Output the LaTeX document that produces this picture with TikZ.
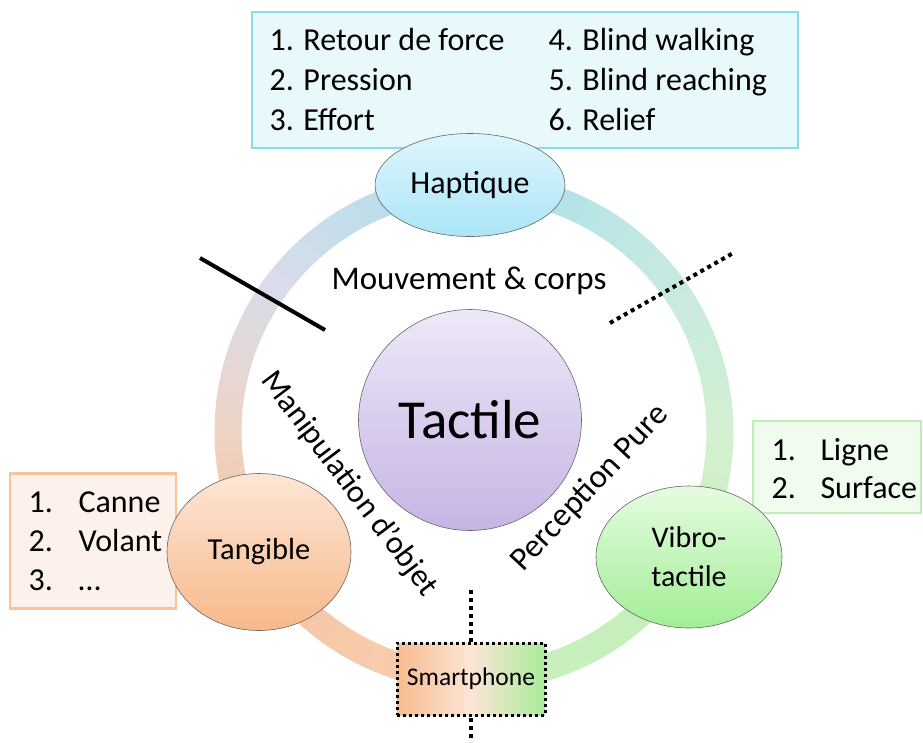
\documentclass[tikz,border=0pt]{standalone}
\usepackage{fontspec}
\setmainfont{Carlito}
\usetikzlibrary{shapes.geometric}

\definecolor{hapTop}{HTML}{DFF6FC}
\definecolor{hapBot}{HTML}{ABE5F7}
\definecolor{tacTop}{HTML}{EEE8F7}
\definecolor{tacBot}{HTML}{C6B4E4}
\definecolor{tanTop}{HTML}{FDE6D6}
\definecolor{tanBot}{HTML}{F7B98B}
\definecolor{vibTop}{HTML}{E6FBE2}
\definecolor{vibBot}{HTML}{A2EE96}
\definecolor{hapFill}{HTML}{E9F8FB}
\definecolor{hapLine}{HTML}{86DEE8}
\definecolor{tanFill}{HTML}{FCF2EB}
\definecolor{tanLine}{HTML}{F8C29A}
\definecolor{vibFill}{HTML}{EFFCEE}
\definecolor{vibLine}{HTML}{BDEFB5}
\definecolor{smL}{HTML}{F8BB8E}
\definecolor{smM}{HTML}{FCE5D7}
\definecolor{smR}{HTML}{A9EC9A}
% ring colours, clockwise from the top
\definecolor{rA}{HTML}{A6DFEA}
\definecolor{rB}{HTML}{C4E9E3}
\definecolor{rC}{HTML}{D5F0D0}
\definecolor{rD}{HTML}{C4EFBA}
\definecolor{rE}{HTML}{C9F0BF}
\definecolor{rF}{HTML}{F8CFB3}
\definecolor{rG}{HTML}{F5C39F}
\definecolor{rH}{HTML}{EDD4C6}
\definecolor{rI}{HTML}{D9DCEA}

\begin{document}
\begin{tikzpicture}[x=1pt, y=-1pt,
  bubble/.style={ellipse, draw=gray!80!black, line width=0.6pt, inner sep=0pt},
  listbox/.style={line width=2.5pt, inner sep=0pt},
  item/.style={anchor=base west, font=\fontsize{32}{38}\selectfont},
  sep/.style={line width=4pt},
  dotsep/.style={line width=4pt, dash pattern=on 4pt off 4pt}]
\useasboundingbox (0,0) rectangle (923,742);

% list boxes
\node[listbox, draw=hapLine, fill=hapFill, minimum width=546, minimum height=136] (hapbox) at (525,80) {};
\node[listbox, draw=tanLine, fill=tanFill, minimum width=166, minimum height=135] (tanbox) at (93,541) {};
\node[listbox, draw=vibLine, fill=vibFill, minimum width=168, minimum height=92] (vibbox) at (837,467) {};

\foreach \t [count=\i] in {Retour de force, Pression, Effort}
  \node[item] (hapL\i) at (266, 10+40*\i) {\i. \t};
\foreach \t [count=\i from 4] in {Blind walking, Blind reaching, Relief}
  \node[item] (hapR\i) at (545, 10+40*\i-120) {\i. \t};
\foreach \t [count=\i] in {Canne, Volant, …} {
  \node[item] (tanN\i) at (25, 473+39*\i) {\i.};
  \node[item] (tanT\i) at (75, 473+39*\i) {\t};
}
\foreach \t [count=\i] in {Ligne, Surface} {
  \node[item] (vibN\i) at (768, 422+38*\i) {\i.};
  \node[item] (vibT\i) at (817, 422+38*\i) {\t};
}

% the ring
\coordinate (ring) at (474,432);
\foreach \sa/\ea/\ca/\cb in {-90/-45/rA/rB, -45/0/rB/rC, 0/30/rC/rD, 30/90/rD/rE,
    90/151/rF/rG, 151/180/rG/rH, 180/215/rH/rI, 215/270/rI/rA}
  \foreach \k in {0,...,11} {
    \pgfmathsetmacro\st{\sa+(\ea-\sa)*\k/12}
    \pgfmathsetmacro\dl{(\ea-\sa)/12+0.4}
    \pgfmathtruncatemacro\p{100-100*\k/12}
    \draw[line width=27pt, color=\ca!\p!\cb] (ring) ++(\st:246) arc[start angle=\st, delta angle=\dl, radius=246];
  }

% separators
\coordinate (cutA1) at (200,258);
\coordinate (cutA2) at (325,330);
\coordinate (cutB1) at (610,323);
\coordinate (cutB2) at (735,252);
\coordinate (cutC1) at (471,590);
\coordinate (cutC2) at (471,742);
\draw[sep] (cutA1) -- (cutA2);
\draw[dotsep] (cutB1) -- (cutB2);
\draw[dotsep] (cutC1) -- (cutC2);

% bubbles
\node[bubble, top color=tacTop, bottom color=tacBot, minimum width=223, minimum height=221,
  font=\fontsize{55}{60}\selectfont] (tactile) at (470,420) {Tactile};
\node[bubble, top color=hapTop, bottom color=hapBot, minimum width=190, minimum height=103,
  font=\fontsize{32}{36}\selectfont] (haptique) at (470,185) {Haptique};
\node[bubble, top color=tanTop, bottom color=tanBot, minimum width=184, minimum height=157,
  font=\fontsize{30.5}{34}\selectfont] (tangible) at (259,552) {Tangible};
\node[bubble, top color=vibTop, bottom color=vibBot, minimum width=186, minimum height=142,
  align=center, font=\fontsize{30}{39}\selectfont] (vibro) at (689,557) {Vibro-\\tactile};
\node[draw, line width=3pt, dash pattern=on 3pt off 3pt, left color=smL, right color=smR, middle color=smM,
  minimum width=148, minimum height=72, inner sep=0pt, font=\fontsize{25.5}{30}\selectfont] (smart) at (471,679) {Smartphone};

% ring labels
\node[font=\fontsize{33}{38}\selectfont] (mvt) at (469,281) {Mouvement \& corps};
\node[rotate=-53, font=\fontsize{32}{36}\selectfont] (manip) at (349,484) {Manipulation d'objet};
\node[rotate=47, font=\fontsize{33}{36}\selectfont] (percep) at (590,488) {Perception Pure};
\end{tikzpicture}
\end{document}
